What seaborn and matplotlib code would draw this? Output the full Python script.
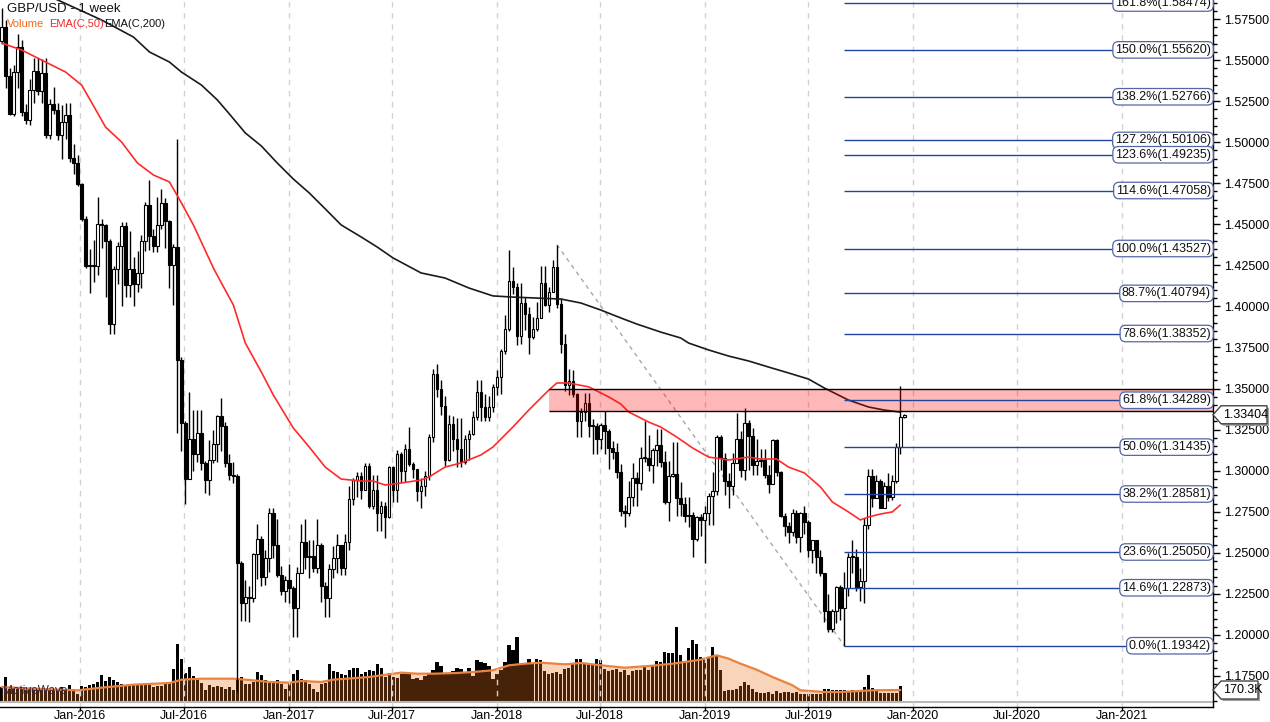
import numpy as np
import pandas as pd
import matplotlib
matplotlib.use("Agg")
import matplotlib.pyplot as plt
import matplotlib.dates as mdates
import matplotlib.ticker as mticker
import matplotlib.transforms as mtransforms
from matplotlib.patches import Polygon, Rectangle
import seaborn as sns

# GBP/USD weekly candles, first week starts 2015-08-17 (open of the next week = close of the previous one)
first_open = 1.5615
close = [
    # 2015
    1.5700, 1.5405, 1.5170, 1.5425, 1.5580, 1.5185, 1.5135, 1.5315, 1.5435, 1.5310,
    1.5420, 1.5045, 1.5230, 1.5195, 1.5045, 1.5125, 1.5165, 1.4905, 1.4875, 1.4745,
    # 2016
    1.4535, 1.4245, 1.4255, 1.4245, 1.4500, 1.4495, 1.4400, 1.3895, 1.4230, 1.4370,
    1.4490, 1.4130, 1.4230, 1.4135, 1.4205, 1.4400, 1.4615, 1.4430, 1.4370, 1.4495,
    1.4630, 1.4520, 1.4255, 1.4360, 1.3676, 1.3290, 1.2950, 1.3195, 1.3100, 1.3230,
    1.3045, 1.2945, 1.3065, 1.3165, 1.3330, 1.3275, 1.3045, 1.2975, 1.2970, 1.2435,
    1.2195, 1.2230, 1.2225, 1.2490, 1.2585, 1.2350, 1.2470, 1.2740, 1.2550, 1.2365,
    1.2265, 1.2335,
    # 2017
    1.2285, 1.2165, 1.2375, 1.2565, 1.2475, 1.2480, 1.2410, 1.2550, 1.2300, 1.2225,
    1.2400, 1.2470, 1.2545, 1.2410, 1.2565, 1.2825, 1.2945, 1.2965, 1.2885, 1.3030,
    1.2785, 1.2880, 1.2745, 1.2785, 1.2715, 1.3025, 1.2885, 1.3100, 1.3000, 1.3135,
    1.3040, 1.3010, 1.2875, 1.2905, 1.2970, 1.3205, 1.3590, 1.3495, 1.3395, 1.3065,
    1.3285, 1.3195, 1.3130, 1.3055, 1.3195, 1.3225, 1.3325, 1.3480, 1.3390, 1.3325,
    1.3390, 1.3510,
    # 2018
    1.3570, 1.3730, 1.3860, 1.4155, 1.4120, 1.3820, 1.4020, 1.3955, 1.3815, 1.3865,
    1.3930, 1.4140, 1.4010, 1.4090, 1.4240, 1.4015, 1.3770, 1.3520, 1.3545, 1.3465,
    1.3300, 1.3360, 1.3410, 1.3270, 1.3270, 1.3195, 1.3280, 1.3240, 1.3140, 1.3115,
    1.2995, 1.2755, 1.2745, 1.2840, 1.2955, 1.2925, 1.3075, 1.3080, 1.3035, 1.3125,
    1.3155, 1.3050, 1.2810, 1.2970, 1.2980, 1.2835, 1.2800, 1.2725, 1.2730, 1.2585,
    1.2715, 1.2700, 1.2745,
    # 2019
    1.2845, 1.2875, 1.3205, 1.3075, 1.2940, 1.2905, 1.3045, 1.3190, 1.3005, 1.3290,
    1.3210, 1.3035, 1.3060, 1.3065, 1.2975, 1.2920, 1.3185, 1.2995, 1.2725, 1.2665,
    1.2625, 1.2745, 1.2595, 1.2745, 1.2690, 1.2520, 1.2575, 1.2475, 1.2375, 1.2145,
    1.2035, 1.2145, 1.2290, 1.2165, 1.2285, 1.2475, 1.2475, 1.2290, 1.2330, 1.2670,
    1.2965, 1.2835, 1.2935, 1.2775, 1.2905, 1.2840, 1.2935, 1.3145, 1.3325, 1.3340,
]
high = [
    1.5819, 1.5745, 1.5450, 1.5470, 1.5659, 1.5620, 1.5235, 1.5385, 1.5510, 1.5510,
    1.5505, 1.5510, 1.5265, 1.5335, 1.5240, 1.5225, 1.5240, 1.5240, 1.4990, 1.4920,
    1.4750, 1.4550, 1.4350, 1.4405, 1.4665, 1.4530, 1.4500, 1.4410, 1.4245, 1.4395,
    1.4515, 1.4515, 1.4460, 1.4300, 1.4340, 1.4435, 1.4635, 1.4770, 1.4470, 1.4665,
    1.4715, 1.4660, 1.4525, 1.4380, 1.5018, 1.3690, 1.3305, 1.3480, 1.3370, 1.3370,
    1.3370, 1.3060, 1.3185, 1.3250, 1.3340, 1.3445, 1.3295, 1.3100, 1.3055, 1.2980,
    1.2450, 1.2335, 1.2295, 1.2500, 1.2675, 1.2600, 1.2515, 1.2775, 1.2775, 1.2705,
    1.2420, 1.2360,
    1.2430, 1.2300, 1.2415, 1.2675, 1.2705, 1.2580, 1.2580, 1.2705, 1.2560, 1.2320,
    1.2430, 1.2540, 1.2615, 1.2545, 1.2615, 1.2905, 1.2955, 1.2990, 1.2990, 1.3045,
    1.3045, 1.2975, 1.2975, 1.2815, 1.2810, 1.3030, 1.3030, 1.3125, 1.3115, 1.3160,
    1.3265, 1.3055, 1.3010, 1.2955, 1.3000, 1.3225, 1.3620, 1.3650, 1.3550, 1.3455,
    1.3340, 1.3335, 1.3320, 1.3320, 1.3220, 1.3245, 1.3365, 1.3550, 1.3550, 1.3465,
    1.3455, 1.3525,
    1.3615, 1.3740, 1.3945, 1.4345, 1.4240, 1.4145, 1.4145, 1.4055, 1.3995, 1.3935,
    1.4025, 1.4245, 1.4245, 1.4120, 1.4280, 1.4377, 1.4050, 1.3830, 1.3620, 1.3615,
    1.3475, 1.3380, 1.3470, 1.3470, 1.3315, 1.3290, 1.3290, 1.3365, 1.3255, 1.3180,
    1.3170, 1.3040, 1.2790, 1.2940, 1.3045, 1.2990, 1.3145, 1.3300, 1.3215, 1.3140,
    1.3255, 1.3255, 1.3120, 1.3060, 1.3175, 1.3175, 1.2930, 1.2840, 1.2840, 1.2750,
    1.2725, 1.2735, 1.2785,
    1.2865, 1.2995, 1.3220, 1.3215, 1.3110, 1.2985, 1.3110, 1.3350, 1.3240, 1.3380,
    1.3310, 1.3260, 1.3195, 1.3130, 1.3130, 1.3035, 1.3190, 1.3190, 1.3000, 1.2740,
    1.2690, 1.2765, 1.2760, 1.2750, 1.2785, 1.2700, 1.2580, 1.2580, 1.2520, 1.2380,
    1.2250, 1.2155, 1.2300, 1.2305, 1.2385, 1.2500, 1.2580, 1.2525, 1.2410, 1.2710,
    1.3010, 1.3010, 1.2975, 1.2950, 1.2930, 1.2985, 1.2975, 1.3170, 1.3515, 1.3345,
]
low = [
    1.5595, 1.5330, 1.5163, 1.5160, 1.5330, 1.5160, 1.5110, 1.5105, 1.5240, 1.5290,
    1.5240, 1.5025, 1.5020, 1.5170, 1.5015, 1.4895, 1.5020, 1.4880, 1.4805, 1.4735,
    1.4520, 1.4235, 1.4080, 1.4150, 1.4190, 1.4355, 1.4060, 1.3835, 1.3835, 1.4135,
    1.4005, 1.4055, 1.4055, 1.4005, 1.4090, 1.4115, 1.4335, 1.4345, 1.4330, 1.4330,
    1.4470, 1.4355, 1.4115, 1.4010, 1.3229, 1.3120, 1.2795, 1.2950, 1.3000, 1.3055,
    1.3005, 1.2865, 1.2855, 1.3045, 1.3055, 1.3120, 1.3025, 1.2945, 1.2925, 1.1650,
    1.2085, 1.2085, 1.2080, 1.2200, 1.2340, 1.2300, 1.2305, 1.2385, 1.2470, 1.2350,
    1.2245, 1.2200,
    1.2195, 1.1985, 1.1985, 1.2375, 1.2400, 1.2345, 1.2385, 1.2380, 1.2200, 1.2110,
    1.2110, 1.2345, 1.2375, 1.2365, 1.2365, 1.2515, 1.2790, 1.2840, 1.2830, 1.2880,
    1.2770, 1.2765, 1.2635, 1.2635, 1.2590, 1.2710, 1.2810, 1.2810, 1.2930, 1.2930,
    1.3030, 1.2955, 1.2815, 1.2775, 1.2845, 1.2945, 1.3175, 1.3450, 1.3340, 1.3030,
    1.3060, 1.3120, 1.3025, 1.3025, 1.3040, 1.3065, 1.3220, 1.3310, 1.3300, 1.3305,
    1.3300, 1.3360,
    1.3460, 1.3465, 1.3710, 1.3850, 1.4075, 1.3765, 1.3770, 1.3855, 1.3710, 1.3800,
    1.3850, 1.3930, 1.4000, 1.3965, 1.4085, 1.3990, 1.3715, 1.3485, 1.3460, 1.3450,
    1.3205, 1.3205, 1.3305, 1.3205, 1.3100, 1.3100, 1.3135, 1.3100, 1.3010, 1.3070,
    1.2955, 1.2725, 1.2660, 1.2725, 1.2785, 1.2785, 1.2885, 1.3055, 1.3000, 1.2925,
    1.3030, 1.3025, 1.2795, 1.2695, 1.2960, 1.2725, 1.2725, 1.2685, 1.2660, 1.2475,
    1.2570, 1.2600, 1.2440,
    1.2670, 1.2670, 1.2855, 1.3005, 1.2855, 1.2775, 1.2855, 1.3045, 1.2960, 1.2945,
    1.3005, 1.2975, 1.2975, 1.3025, 1.2955, 1.2865, 1.2920, 1.2965, 1.2720, 1.2605,
    1.2560, 1.2600, 1.2560, 1.2505, 1.2615, 1.2475, 1.2440, 1.2380, 1.2360, 1.2080,
    1.2015, 1.2015, 1.2070, 1.2090, 1.1935, 1.2235, 1.2380, 1.2270, 1.2205, 1.2195,
    1.2645, 1.2780, 1.2835, 1.2770, 1.2770, 1.2815, 1.2820, 1.2925, 1.3100, 1.3320,
]
# weekly volume, thousands
volume_k = [
    213, 355, 189, 204, 213, 204, 175, 189, 204, 189,
    175, 189, 175, 166, 175, 213, 185, 237, 189, 118,
    222, 213, 237, 251, 284, 379, 298, 355, 308, 284,
    260, 237, 237, 251, 251, 237, 270, 251, 213, 222,
    222, 251, 270, 473, 819, 615, 412, 497, 364, 317,
    270, 175, 237, 213, 222, 213, 189, 213, 175, 331,
    355, 251, 260, 284, 426, 379, 308, 298, 298, 317,
    251, 189,
    284, 393, 450, 331, 317, 260, 189, 142, 251, 270,
    535, 440, 426, 402, 379, 450, 487, 487, 402, 426,
    459, 440, 535, 487, 355, 412, 355, 346, 402, 412,
    393, 331, 346, 317, 364, 402, 450, 568, 506, 412,
    412, 440, 487, 473, 412, 487, 364, 592, 568, 554,
    506, 331,
    393, 459, 568, 805, 734, 923, 544, 544, 615, 554,
    615, 601, 440, 402, 412, 426, 393, 473, 487, 544,
    615, 615, 544, 535, 544, 615, 601, 473, 440, 450,
    473, 426, 459, 379, 440, 459, 450, 497, 459, 521,
    582, 568, 710, 696, 696, 1065, 663, 582, 771, 885,
    819, 639, 629,
    639, 781, 663, 450, 156, 166, 166, 189, 222, 284,
    237, 189, 142, 128, 128, 142, 118, 151, 128, 142,
    142, 128, 142, 118, 118, 109, 109, 118, 118, 189,
    189, 175, 175, 175, 166, 156, 166, 156, 175, 213,
    379, 204, 166, 128, 128, 128, 128, 128, 222, 9,
]

# indicator lines (week number, value)
ema50_week = [0, 5, 10, 16, 20, 24, 26, 30, 34, 38, 42, 45, 48, 53, 55, 58, 61, 65, 68, 73,
              77, 81, 85, 90, 93, 96, 100, 105, 107, 111, 115, 120, 123, 128, 132, 137, 139, 142, 147, 152,
              155, 157, 162, 165, 169, 173, 177, 182, 187, 190, 194, 197, 201, 205, 208, 212, 215, 217, 220, 223,
              225]
ema50_val = [1.5604, 1.5561, 1.5500, 1.5427, 1.5348, 1.5178, 1.5092, 1.5001, 1.4873, 1.4800,
             1.4758, 1.4630, 1.4496, 1.4234, 1.4143, 1.4009, 1.3777, 1.3601, 1.3461, 1.3260,
             1.3144, 1.3022, 1.2949, 1.2937, 1.2937, 1.2913, 1.2925, 1.2943, 1.2962, 1.3022,
             1.3047, 1.3096, 1.3144, 1.3266, 1.3370, 1.3491, 1.3534, 1.3534, 1.3510, 1.3449,
             1.3406, 1.3357, 1.3296, 1.3266, 1.3205, 1.3138, 1.3083, 1.3065, 1.3083, 1.3071,
             1.3071, 1.3022, 1.2986, 1.2901, 1.2809, 1.2749, 1.2700, 1.2718, 1.2736, 1.2749,
             1.2791]
ema200_week = [0, 14, 25, 33, 37, 42, 45, 50, 54, 57, 61, 65, 69, 73, 77, 81, 85, 90, 94, 98,
               105, 111, 117, 123, 128, 134, 140, 145, 150, 155, 159, 165, 170, 172, 177, 182, 187, 192, 197, 202,
               206, 212, 217, 221, 225]
ema200_val = [1.6018, 1.5866, 1.5744, 1.5640, 1.5549, 1.5488, 1.5427, 1.5348, 1.5257, 1.5172,
              1.5056, 1.4977, 1.4873, 1.4776, 1.4691, 1.4594, 1.4496, 1.4423, 1.4362, 1.4295,
              1.4204, 1.4173, 1.4112, 1.4064, 1.4057, 1.4051, 1.4045, 1.4021, 1.3978, 1.3930,
              1.3893, 1.3844, 1.3808, 1.3777, 1.3735, 1.3698, 1.3668, 1.3631, 1.3595, 1.3558,
              1.3503, 1.3430, 1.3388, 1.3369, 1.3357]
vol_ema_week = [0, 8, 19, 25, 33, 42, 45, 50, 58, 63, 67, 72, 75, 80, 83, 92, 100, 104, 108, 114,
                118, 123, 127, 131, 135, 141, 145, 150, 156, 162, 168, 175, 179, 182, 185, 189, 193, 198, 200, 206,
                210, 218, 225]
vol_ema_val = [213, 189, 166, 204, 246, 270, 317, 331, 331, 308, 284, 275, 298, 284, 317, 355, 417, 402, 402, 412,
               426, 450, 521, 544, 558, 535, 554, 521, 487, 511, 544, 601, 663, 615, 544, 459, 355, 237, 166, 142,
               142, 166, 170]

# Fibonacci levels, drawn from the Sep-2019 low
fib_pct = ["161.8%", "150.0%", "138.2%", "127.2%", "123.6%", "114.6%", "100.0%", "88.7%",
           "78.6%", "61.8%", "50.0%", "38.2%", "23.6%", "14.6%", "0.0%"]
fib_price = [1.58474, 1.55620, 1.52766, 1.50106, 1.49235, 1.47058, 1.43527, 1.40794,
             1.38352, 1.34289, 1.31435, 1.28581, 1.25050, 1.22873, 1.19342]
fib_week = 211
trend_week = [139, 211]
trend_price = [1.4376, 1.1934]
zone_week = 137
zone_low, zone_high = 1.3362, 1.3500
last_price = 1.33404
last_volume = 170.3

sns.set_style("white")
plt.rcParams['font.family'] = ['Liberation Sans', 'DejaVu Sans']

W, H = 1270, 722
fig = plt.figure(figsize=(W / 100, H / 100), dpi=100, facecolor="white")
ax = fig.add_axes([0, 15 / H, 1213 / W, 707 / H])
vax = ax.twinx()
ax.set_zorder(vax.get_zorder() + 1)
ax.patch.set_visible(False)

weeks = pd.date_range("2015-08-17", periods=len(close), freq="7D")
df = pd.DataFrame({"date": weeks, "open": [first_open] + close[:-1], "high": high,
                   "low": low, "close": close, "volume": volume_k})
x_start, x_end = pd.Timestamp("2015-08-14"), pd.Timestamp("2021-06-09")

# volume pane
vax.bar(df["date"], df["volume"], width=5.6, color="black", linewidth=0, zorder=2)
vax.fill_between(weeks[vol_ema_week], 0, vol_ema_val, color="#e8741c", alpha=0.3, linewidth=0, zorder=3)
sns.lineplot(x=weeks[vol_ema_week], y=vol_ema_val, ax=vax, color="#ea8240", linewidth=1.6, zorder=4)
vax.axhline(0, color="#b8b8b8", linewidth=1.5, zorder=5)
vax.set_ylim(-71, 9968)
vax.set_axis_off()

# candles
body_lo = np.minimum(df["open"], df["close"])
body_h = np.maximum((df["close"] - df["open"]).abs(), 0.0006)
up = df["close"] >= df["open"]
ax.vlines(df["date"], np.minimum(df["low"], body_lo), np.maximum(df["high"], body_lo + body_h),
          color="black", linewidth=1, zorder=3)
ax.bar(df["date"][up], body_h[up], bottom=body_lo[up], width=4.6, color="white",
       edgecolor="black", linewidth=0.8, zorder=4)
ax.bar(df["date"][~up], body_h[~up], bottom=body_lo[~up], width=4.6, color="black",
       edgecolor="black", linewidth=0.8, zorder=4)

# moving averages
sns.lineplot(x=weeks[ema50_week], y=ema50_val, ax=ax, color="#ff2a2a", linewidth=1.2, zorder=5)
sns.lineplot(x=weeks[ema200_week], y=ema200_val, ax=ax, color="#1a1a1a", linewidth=1.2, zorder=5)

# trend line, zone, fib levels
ax.plot(weeks[trend_week], trend_price, color="#a8a8a8", linestyle=(0, (3, 3)), linewidth=1, zorder=2)
z0 = mdates.date2num(weeks[zone_week])
ax.add_patch(Rectangle((z0, zone_low), mdates.date2num(x_end) - z0, zone_high - zone_low,
                       facecolor=(1, 0, 0, 0.28), edgecolor="none", zorder=6))
ax.hlines([zone_low, zone_high], weeks[zone_week], x_end, color="black", linewidth=1, zorder=6)
ax.hlines(fib_price, weeks[fib_week], x_end, color="#1f45a0", linewidth=1, zorder=7)
lab_tr = mtransforms.blended_transform_factory(ax.transAxes, ax.transData)
for pct, price in zip(fib_pct, fib_price):
    ax.text(1211 / 1213, price, f"{pct}({price:.5f})", transform=lab_tr, ha="right", va="center",
            fontsize=9, color="#111111", zorder=9,
            bbox=dict(boxstyle="round,pad=0.18,rounding_size=0.45", fc="white", ec="#5566a6", lw=0.9))

# axes
ax.set_xlim(x_start, x_end)
ax.set_ylim(1.156126, 1.586568)
ax.set_xlabel("")
ax.set_ylabel("")
ax.yaxis.tick_right()
ax.yaxis.set_major_locator(mticker.MultipleLocator(0.025))
ax.yaxis.set_minor_locator(mticker.MultipleLocator(0.005))
ax.yaxis.set_major_formatter(mticker.FormatStrFormatter("%.5f"))
ax.xaxis.set_major_locator(mdates.MonthLocator(bymonth=[1, 7]))
ax.xaxis.set_major_formatter(mdates.DateFormatter("%b-%Y"))
ax.tick_params(axis="y", which="major", right=True, left=False, length=5, width=1,
               labelsize=9, pad=3, colors="black")
ax.tick_params(axis="y", which="minor", right=True, left=False, length=3, width=1, colors="black")
ax.tick_params(axis="x", bottom=True, length=3, width=1, labelsize=9, pad=-1, colors="black")
ax.grid(axis="x", color="#d2d2d2", linestyle=(0, (4, 4)), linewidth=1)
ax.grid(axis="y", visible=False)
ax.set_axisbelow(True)
for s in ["top", "left"]:
    ax.spines[s].set_visible(False)
for s in ["right", "bottom"]:
    ax.spines[s].set_color("black")
    ax.spines[s].set_linewidth(1)


def value_tag(axis, value, text, right_px):
    y = axis.transData.transform((0, value))[1]
    x0 = 1213
    pts = [(x0, y), (x0 + 8, y + 9), (right_px, y + 9), (right_px, y - 9), (x0 + 8, y - 9)]
    ident = mtransforms.IdentityTransform()
    fig.add_artist(Polygon([(px + 2, py - 2) for px, py in pts], closed=True, transform=ident,
                           fc="#a0a0a0", ec="none", zorder=5))
    fig.add_artist(Polygon(pts, closed=True, transform=ident, fc="white", ec="#444444", lw=1, zorder=6))
    fig.text(1223 / W, y / H, text, ha="left", va="center", fontsize=9, color="black", zorder=7)


value_tag(ax, last_price, f"{last_price:.5f}", 1267)
value_tag(vax, last_volume, f"{last_volume}K", 1258)

# header and watermark
fig.text(7 / W, 1 - 3 / H, "GBP/USD - 1 week", fontsize=9.5, color="#111111", va="top")
fig.text(7 / W, 1 - 19 / H, "Volume", fontsize=8, color="#ee6a1a", va="top")
fig.text(49 / W, 1 - 19 / H, "EMA(C,50)", fontsize=8, color="#f02828", va="top")
fig.text(104 / W, 1 - 19 / H, "EMA(C,200)", fontsize=8, color="#111111", va="top")
fig.text(3 / W, 1 - 685 / H, "MotiveWave", fontsize=8.5, color="#3a2440", va="top")

fig.savefig("out.png", dpi=100)
